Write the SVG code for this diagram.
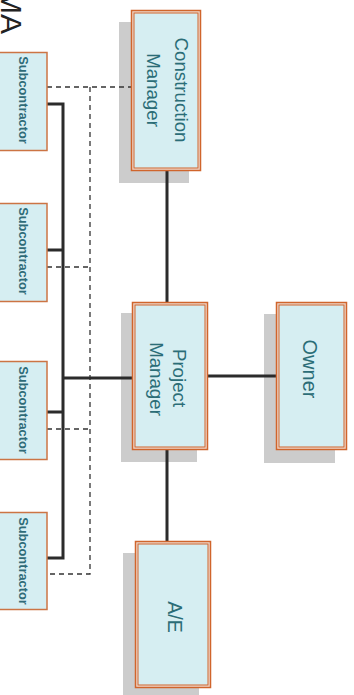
<svg xmlns="http://www.w3.org/2000/svg" width="354" height="695" viewBox="0 0 354 695">
<style>
.shadow{fill:#cccccc}
.outer{fill:#eed8cc;stroke:#d0652c;stroke-width:1.5}
.inner{fill:#d6eef2;stroke:#d0652c;stroke-width:1}
.sub{fill:#d6eef2;stroke:#cc7444;stroke-width:1.5}
.lbl{font-family:"Liberation Sans",Arial,sans-serif;fill:#2b6d77;text-anchor:middle}
.sublbl{font-family:"Liberation Sans",Arial,sans-serif;font-weight:bold;font-size:12.8px;fill:#2f6b78;text-anchor:middle}
.solid{stroke:#2b2b2b;stroke-width:3;fill:none}
.dash{stroke:#333;stroke-width:1.3;fill:none;stroke-dasharray:5 4}
</style>
<text x="0" y="0" transform="translate(1,34) rotate(90)" font-family="Liberation Sans,Arial,sans-serif" font-size="30" fill="#222" text-anchor="end">MA</text>
<g id="shadows">
<rect class="shadow" x="119" y="22" width="70" height="161"/>
<rect class="shadow" x="121" y="313" width="76" height="149"/>
<rect class="shadow" x="264" y="314" width="71" height="149"/>
<rect class="shadow" x="123" y="553" width="76" height="142"/>
</g>
<g id="connectors">
<path class="dash" d="M47 87H131M90 87V574H47M47 267H90M47 429H90"/>
<path class="solid" d="M47 104H63V558H47M47 250H63M47 412H63M63 378H132M167 171V302M208 376H276M167 450V541"/>
</g>
<g id="construction-manager">
<rect class="outer" x="131.5" y="10.5" width="69" height="160"/>
<rect class="inner" x="134" y="13" width="64" height="155"/>
<text class="lbl" font-size="18.7" transform="translate(175,90) rotate(90)">Construction</text>
<text class="lbl" font-size="18.7" transform="translate(147,90) rotate(90)">Manager</text>
</g>
<g id="project-manager">
<rect class="outer" x="132.5" y="302.5" width="75" height="147"/>
<rect class="inner" x="135" y="305" width="70" height="142"/>
<text class="lbl" font-size="18.7" transform="translate(173,378) rotate(90)">Project</text>
<text class="lbl" font-size="18.7" transform="translate(150,379) rotate(90)">Manager</text>
</g>
<g id="owner">
<rect class="outer" x="276.5" y="302.5" width="70" height="147"/>
<rect class="inner" x="279" y="305" width="65" height="142"/>
<text class="lbl" font-size="20" transform="translate(303,369) rotate(90)">Owner</text>
</g>
<g id="ae">
<rect class="outer" x="135.5" y="541.5" width="75" height="146"/>
<rect class="inner" x="138" y="544" width="70" height="141"/>
<text class="lbl" font-size="19.5" transform="translate(168,617) rotate(90)">A/E</text>
</g>
<g id="sub1">
<rect class="sub" x="-1" y="52.5" width="48" height="98"/>
<text class="sublbl" transform="translate(19,100) rotate(90)">Subcontractor</text>
</g>
<g id="sub2">
<rect class="sub" x="-1" y="203.5" width="48" height="98"/>
<text class="sublbl" transform="translate(19,251) rotate(90)">Subcontractor</text>
</g>
<g id="sub3">
<rect class="sub" x="-1" y="361.5" width="48" height="98"/>
<text class="sublbl" transform="translate(19,410) rotate(90)">Subcontractor</text>
</g>
<g id="sub4">
<rect class="sub" x="-1" y="512.5" width="48" height="97"/>
<text class="sublbl" transform="translate(19,561) rotate(90)">Subcontractor</text>
</g>
</svg>
